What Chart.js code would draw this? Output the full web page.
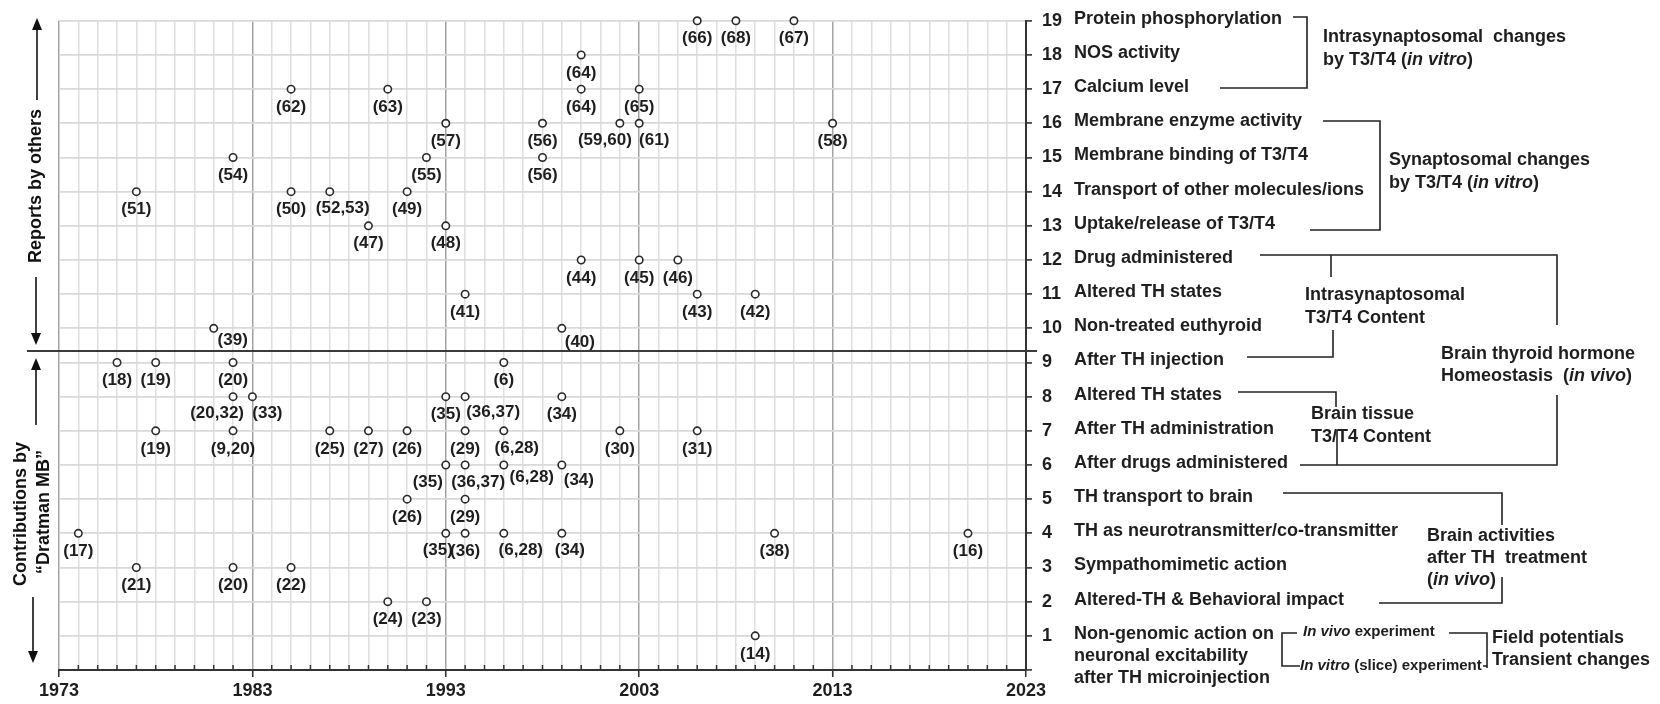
<!DOCTYPE html>
<html>
<head>
<meta charset="utf-8">
<script src="https://cdn.jsdelivr.net/npm/chart.js@4.4.0/dist/chart.umd.min.js"></script>
<style>
  html, body { margin: 0; padding: 0; background: #fff; }
  #wrap { width: 1660px; height: 704px; }
</style>
</head>
<body>
<div id="wrap"><canvas id="timeline"></canvas></div>
<script>
// x axis labels (decades) and the row names shown right of the y axis (row 1 .. row 19)
const xTickLabels = ['1973', '1983', '1993', '2003', '2013', '2023'];
const rowNames = [
  ['Non-genomic action on', 'neuronal excitability', 'after TH microinjection'],
  'Altered-TH & Behavioral impact',
  'Sympathomimetic action',
  'TH as neurotransmitter/co-transmitter',
  'TH transport to brain',
  'After drugs administered',
  'After TH administration',
  'Altered TH states',
  'After TH injection',
  'Non-treated euthyroid',
  'Altered TH states',
  'Drug administered',
  'Uptake/release of T3/T4',
  'Transport of other molecules/ions',
  'Membrane binding of T3/T4',
  'Membrane enzyme activity',
  'Calcium level',
  'NOS activity',
  'Protein phosphorylation'
];

// reports by others (rows 10-19)
const othersYears = [2006, 2008, 2011, 2000, 1985, 1990, 2000, 2003, 1993, 1998, 2002, 2003, 2013,
  1982, 1992, 1998, 1977, 1985, 1987, 1991, 1989, 1993, 2000, 2003, 2005, 1994, 2006, 2009, 1981, 1999];
const othersRows = [19, 19, 19, 18, 17, 17, 17, 17, 16, 16, 16, 16, 16,
  15, 15, 15, 14, 14, 14, 14, 13, 13, 12, 12, 12, 11, 11, 11, 10, 10];
const othersRefs = ['(66)', '(68)', '(67)', '(64)', '(62)', '(63)', '(64)', '(65)', '(57)', '(56)', '(59,60)', '(61)', '(58)',
  '(54)', '(55)', '(56)', '(51)', '(50)', '(52,53)', '(49)', '(47)', '(48)', '(44)', '(45)', '(46)', '(41)', '(43)', '(42)', '(39)', '(40)'];

// contributions by Dratman MB (rows 1-9)
const dratmanYears = [1976, 1978, 1982, 1996, 1982, 1983, 1993, 1994, 1999,
  1978, 1982, 1987, 1989, 1991, 1994, 1996, 2002, 2006, 1993, 1994, 1996, 1999,
  1991, 1994, 1974, 1993, 1994, 1996, 1999, 2010, 2020, 1977, 1982, 1985, 1990, 1992, 2009];
const dratmanRows = [9, 9, 9, 9, 8, 8, 8, 8, 8,
  7, 7, 7, 7, 7, 7, 7, 7, 7, 6, 6, 6, 6,
  5, 5, 4, 4, 4, 4, 4, 4, 4, 3, 3, 3, 2, 2, 1];
const dratmanRefs = ['(18)', '(19)', '(20)', '(6)', '(20,32)', '(33)', '(35)', '(36,37)', '(34)',
  '(19)', '(9,20)', '(25)', '(27)', '(26)', '(29)', '(6,28)', '(30)', '(31)', '(35)', '(36,37)', '(6,28)', '(34)',
  '(26)', '(29)', '(17)', '(35)', '(36)', '(6,28)', '(34)', '(38)', '(16)', '(21)', '(20)', '(22)', '(24)', '(23)', '(14)'];

// where a reference label is not straight under its point: [dx, dy] in px
const labelShift = {
  '1981|10': [19, 12], '1999|10': [18, 14], '1996|6': [28, 12], '1999|6': [17, 15],
  '1994|8': [28, 16], '1982|8': [-16, 17], '1983|8': [15, 17], '1993|6': [-18, 17],
  '1994|6': [13, 17], '1993|4': [-8, 17], '1996|4': [17, 17], '1999|4': [8, 17],
  '1996|7': [13, 17], '2002|16': [-15, 17], '2003|16': [15, 17], '1987|14': [13, 17]
};

const FONT = "'Liberation Sans', Arial, sans-serif";
const INK = '#1e1e1e';

function toPoints(years, rows) {
  return years.map((yr, i) => ({ x: yr, y: rows[i] }));
}

function line(ctx, pts) {
  ctx.beginPath();
  ctx.moveTo(pts[0][0], pts[0][1]);
  for (let i = 1; i < pts.length; i++) ctx.lineTo(pts[i][0], pts[i][1]);
  ctx.stroke();
}

function arrow(ctx, x, from, tip) {
  const dir = tip < from ? -1 : 1;
  line(ctx, [[x, from], [x, tip - dir * 10]]);
  ctx.beginPath();
  ctx.moveTo(x, tip);
  ctx.lineTo(x - 5, tip - dir * 12);
  ctx.lineTo(x + 5, tip - dir * 12);
  ctx.closePath();
  ctx.fill();
}

function rich(ctx, x, y, parts, size, weight) {
  let cx = x;
  parts.forEach(([t, it]) => {
    ctx.font = `${it ? 'italic ' : ''}${weight || 'bold'} ${size}px ${FONT}`;
    ctx.fillText(t, cx, y);
    cx += ctx.measureText(t).width;
  });
}

function vertText(ctx, txt, x, y) {
  ctx.save();
  ctx.translate(x, y);
  ctx.rotate(-Math.PI / 2);
  ctx.textAlign = 'center';
  ctx.fillText(txt, 0, 0);
  ctx.restore();
}

const refLabels = {
  id: 'refLabels',
  afterDatasetsDraw(chart) {
    const ctx = chart.ctx;
    const refs = [othersRefs, dratmanRefs];
    ctx.save();
    ctx.font = `bold 17px ${FONT}`;
    ctx.fillStyle = INK;
    ctx.textAlign = 'center';
    ctx.textBaseline = 'middle';
    chart.data.datasets.forEach((ds, d) => {
      chart.getDatasetMeta(d).data.forEach((pt, i) => {
        const raw = ds.data[i];
        const s = labelShift[raw.x + '|' + raw.y] || [0, 18];
        ctx.fillText(refs[d][i], pt.x + s[0], pt.y + s[1]);
      });
    });
    ctx.restore();
  }
};

const sideNotes = {
  id: 'sideNotes',
  afterDraw(chart) {
    const ctx = chart.ctx;
    const xs = chart.scales.x, ys = chart.scales.y;
    const area = chart.chartArea;
    ctx.save();
    ctx.strokeStyle = '#333';
    ctx.fillStyle = INK;

    // small year ticks inside the x axis
    ctx.lineWidth = 1.5;
    for (let yr = 1974; yr < 2023; yr++) {
      if ((yr - 1973) % 10 === 0) continue;
      const px = xs.getPixelForValue(yr);
      line(ctx, [[px, area.bottom - 5], [px, area.bottom + 1]]);
    }

    // divider between the two groups
    ctx.lineWidth = 2;
    ctx.strokeStyle = '#3a3a3a';
    line(ctx, [[27, 351], [1037, 351]]);

    // row names
    ctx.textBaseline = 'middle';
    ctx.textAlign = 'left';
    ctx.font = `bold 18px ${FONT}`;
    rowNames.forEach((name, i) => {
      const py = ys.getPixelForValue(i + 1) - 2;
      if (Array.isArray(name)) {
        name.forEach((t, k) => ctx.fillText(t, 1074, py + k * 22));
      } else {
        ctx.fillText(name, 1074, py);
      }
    });

    // brackets
    ctx.strokeStyle = '#222';
    ctx.lineWidth = 1.6;
    line(ctx, [[1293, 17], [1307, 17], [1307, 88], [1220, 88]]);
    line(ctx, [[1323, 121], [1380, 121], [1380, 230], [1310, 230]]);
    line(ctx, [[1260, 255], [1557, 255], [1557, 325]]);
    line(ctx, [[1331, 255], [1331, 277]]);
    line(ctx, [[1247, 357], [1333, 357], [1333, 330]]);
    line(ctx, [[1238, 392], [1336, 392], [1336, 407]]);
    line(ctx, [[1300, 465], [1557, 465], [1557, 395]]);
    line(ctx, [[1337, 465], [1337, 430]]);
    line(ctx, [[1283, 493], [1502, 493], [1502, 525]]);
    line(ctx, [[1502, 577], [1502, 603], [1379, 603]]);
    line(ctx, [[1297, 633], [1282, 633], [1282, 666], [1300, 666]]);
    line(ctx, [[1449, 633], [1487, 633], [1487, 668]]);
    line(ctx, [[1483, 666], [1487, 666]]);

    // group notes
    rich(ctx, 1323, 37, [['Intrasynaptosomal  changes']], 18);
    rich(ctx, 1323, 60, [['by T3/T4 ('], ['in vitro', true], [')']], 18);
    rich(ctx, 1389, 160, [['Synaptosomal changes']], 18);
    rich(ctx, 1389, 183, [['by T3/T4 ('], ['in vitro', true], [')']], 18);
    rich(ctx, 1305, 295, [['Intrasynaptosomal']], 18);
    rich(ctx, 1305, 318, [['T3/T4 Content']], 18);
    rich(ctx, 1441, 354, [['Brain thyroid hormone']], 18);
    rich(ctx, 1441, 376, [['Homeostasis  ('], ['in vivo', true], [')']], 18);
    rich(ctx, 1311, 414, [['Brain tissue']], 18);
    rich(ctx, 1311, 437, [['T3/T4 Content']], 18);
    rich(ctx, 1427, 536, [['Brain activities']], 18);
    rich(ctx, 1427, 558, [['after TH  treatment']], 18);
    rich(ctx, 1427, 580, [['('], ['in vivo', true], [')']], 18);
    rich(ctx, 1303, 632, [['In vivo', true], [' experiment']], 15);
    rich(ctx, 1300, 666, [['In vitro', true], [' (slice) experiment']], 15);
    rich(ctx, 1492, 638, [['Field potentials']], 18);
    rich(ctx, 1492, 660, [['Transient changes']], 18);

    // left side captions with arrows
    ctx.strokeStyle = '#111';
    ctx.fillStyle = '#111';
    ctx.lineWidth = 1.6;
    arrow(ctx, 37, 100, 18);
    arrow(ctx, 36, 277, 345);
    arrow(ctx, 36, 425, 358);
    arrow(ctx, 33, 597, 663);
    ctx.font = `bold 18px ${FONT}`;
    ctx.textBaseline = 'middle';
    vertText(ctx, 'Reports by others', 36, 186);
    vertText(ctx, 'Contributions by', 21, 514);
    vertText(ctx, '\u201CDratman MB\u201D', 44, 512);
    ctx.restore();
  }
};

const pointStyle = {
  pointRadius: 3.7,
  pointHoverRadius: 3.7,
  pointBorderWidth: 1.6,
  pointBorderColor: '#2a2a2a',
  pointBackgroundColor: '#ffffff',
  clip: false
};

new Chart(document.getElementById('timeline'), {
  type: 'scatter',
  data: {
    datasets: [
      { label: 'Reports by others', data: toPoints(othersYears, othersRows), ...pointStyle },
      { label: 'Contributions by Dratman MB', data: toPoints(dratmanYears, dratmanRows), ...pointStyle }
    ]
  },
  options: {
    responsive: true,
    maintainAspectRatio: false,
    devicePixelRatio: 1,
    animation: false,
    layout: { padding: { left: 59, top: 20, right: 0, bottom: 0 } },
    plugins: { legend: { display: false }, tooltip: { enabled: false } },
    scales: {
      x: {
        type: 'linear',
        min: 1973,
        max: 2023,
        afterFit: (scale) => { scale.height = 34; },
        ticks: {
          stepSize: 1,
          autoSkip: false,
          maxRotation: 0,
          padding: 3,
          color: INK,
          font: { family: FONT, size: 18, weight: 'bold' },
          callback: (v) => xTickLabels.includes(String(v)) ? String(v) : ''
        },
        grid: {
          color: (c) => (c.tick && (c.tick.value - 1973) % 10 === 0) ? '#a3a3a3' : '#dedede',
          lineWidth: 1.5,
          tickLength: 7,
          tickColor: (c) => (c.tick && (c.tick.value - 1973) % 10 === 0) ? '#333' : 'rgba(0,0,0,0)',
          tickWidth: 1.6
        },
        border: { color: '#333', width: 2 }
      },
      y: {
        position: 'right',
        min: 0,
        max: 19,
        afterFit: (scale) => { scale.width = 634; },
        ticks: {
          stepSize: 1,
          autoSkip: false,
          padding: 10,
          color: INK,
          font: { family: FONT, size: 18, weight: 'bold' },
          callback: (v) => v >= 1 ? String(v) : ''
        },
        grid: {
          color: '#d9d9d9',
          lineWidth: 1.8,
          tickLength: 6,
          tickColor: '#333',
          tickWidth: 1.6
        },
        border: { color: '#333', width: 2 }
      }
    }
  },
  plugins: [refLabels, sideNotes]
});
</script>
</body>
</html>
